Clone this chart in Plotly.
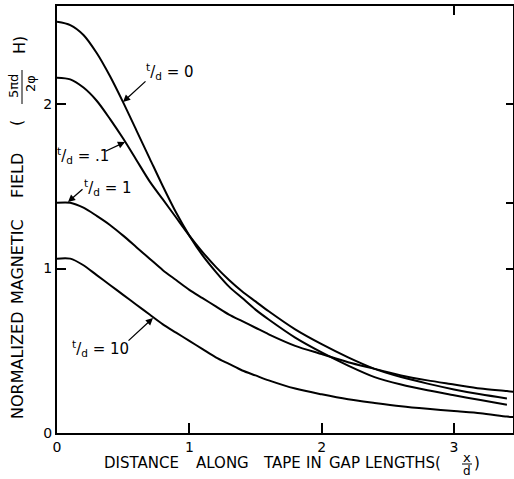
import plotly.graph_objects as go

# ---- data ----
x_vals = [0, 0.1, 0.2, 0.3, 0.4, 0.5, 0.6, 0.7, 0.8, 0.9, 1.0, 1.1, 1.2, 1.3, 1.4, 1.5,
          1.6, 1.8, 2.0, 2.2, 2.4, 2.6, 2.8, 3.0, 3.2, 3.4]
x_long = x_vals + [3.45]

t_d_0 = [2.50, 2.48, 2.42, 2.31, 2.17, 2.01, 1.84, 1.67, 1.50, 1.34, 1.20, 1.08, 0.98, 0.89,
         0.82, 0.75, 0.69, 0.58, 0.49, 0.41, 0.34, 0.295, 0.26, 0.23, 0.20, 0.172]
t_d_01 = [2.16, 2.15, 2.10, 2.02, 1.91, 1.79, 1.66, 1.53, 1.42, 1.31, 1.20, 1.10, 1.01, 0.93,
          0.86, 0.80, 0.74, 0.63, 0.54, 0.46, 0.39, 0.34, 0.30, 0.265, 0.235, 0.21]
t_d_1 = [1.40, 1.40, 1.37, 1.32, 1.265, 1.20, 1.13, 1.06, 0.99, 0.93, 0.87, 0.82, 0.77, 0.72,
         0.68, 0.64, 0.60, 0.53, 0.48, 0.43, 0.39, 0.35, 0.32, 0.295, 0.27, 0.255, 0.25]
t_d_10 = [1.06, 1.06, 1.02, 0.96, 0.90, 0.84, 0.78, 0.72, 0.66, 0.61, 0.56, 0.51, 0.46, 0.42,
          0.38, 0.35, 0.32, 0.27, 0.235, 0.205, 0.183, 0.163, 0.147, 0.133, 0.12, 0.10, 0.097]

x_ticks = [0, 1, 2, 3]
y_ticks = [0, 1, 2]

x_title_words = ["DISTANCE", "ALONG", "TAPE", "IN", "GAP", "LENGTHS("]
y_title_words = ["NORMALIZED", "MAGNETIC", "FIELD", "("]

FONT = "DejaVu Sans"
W, H = 514, 479
L, R, T, B = 57, 513, 6, 433
X_MAX, Y_MAX = 3.446, 2.596


def px(xp, yp):
    """pixel -> paper coords"""
    return (xp - L) / (R - L), (B - yp) / (B - T)


fig = go.Figure()
for xs, ys in [(x_vals, t_d_0), (x_vals, t_d_01), (x_long, t_d_1), (x_long, t_d_10)]:
    fig.add_trace(go.Scatter(x=xs, y=ys, mode="lines",
                             line=dict(color="black", width=2, shape="spline", smoothing=0.8),
                             showlegend=False, hoverinfo="skip"))

# invisible trace for mirrored axes
fig.add_trace(go.Scatter(x=[0], y=[0], xaxis="x2", yaxis="y2", mode="markers",
                         marker=dict(opacity=0), showlegend=False, hoverinfo="skip"))

fig.update_layout(
    width=W, height=H,
    margin=dict(l=L, r=W - R, t=T, b=H - B, autoexpand=False),
    paper_bgcolor="white", plot_bgcolor="white",
    font=dict(family=FONT, color="black", size=13),
    xaxis=dict(range=[0, X_MAX], tickvals=x_ticks, ticktext=[str(v) for v in x_ticks],
               ticks="inside", ticklen=10, tickwidth=1.5, tickcolor="black",
               showline=True, linewidth=2, linecolor="black", mirror=True, automargin=False,
               showgrid=False, zeroline=False, tickfont=dict(size=14)),
    yaxis=dict(range=[0, Y_MAX], tickvals=y_ticks, ticktext=[str(v) for v in y_ticks],
               ticks="inside", ticklen=9, tickwidth=1.5, tickcolor="black",
               showline=True, linewidth=2, linecolor="black", mirror=True, automargin=False,
               showgrid=False, zeroline=False, tickfont=dict(size=14)),
    xaxis2=dict(range=[0, X_MAX], overlaying="x", side="top", tickvals=[3], automargin=False,
                ticks="inside", ticklen=9, tickwidth=1.5, tickcolor="black",
                showticklabels=False, showgrid=False, zeroline=False, showline=False),
    yaxis2=dict(range=[0, Y_MAX], overlaying="y", side="right", tickvals=[1, 1.4, 2],
                automargin=False,
                ticks="inside", ticklen=7, tickwidth=1.5, tickcolor="black",
                showticklabels=False, showgrid=False, zeroline=False, showline=False),
)

# ---- curve labels with arrows ----
def arrow(tip_px, tail_px):
    tx, ty = tip_px
    xd = (tx - L) / (R - L) * X_MAX
    yd = (B - ty) / (B - T) * Y_MAX
    fig.add_annotation(x=xd, y=yd, xref="x", yref="y", text="", showarrow=True,
                       ax=tail_px[0] - tx, ay=tail_px[1] - ty, arrowhead=2,
                       arrowsize=1.1, arrowwidth=1.3, arrowcolor="black")


def label(text, cx, cy, size=13, angle=0, xanchor="center"):
    pxp, pyp = px(cx, cy)
    fig.add_annotation(x=pxp, y=pyp, xref="paper", yref="paper", text=text,
                       showarrow=False, font=dict(size=size, family=FONT),
                       textangle=angle, xanchor=xanchor, yanchor="middle")


frac = "<sup>t</sup>/<sub>d</sub> = "
arrow((123, 102), (147, 80))
label(frac + "0", 170, 72, size=15)
arrow((125, 142), (104, 152))
label(frac + ".1", 83, 155, size=15)
arrow((68, 202), (84, 188))
label(frac + "1", 108, 187, size=15)
arrow((153, 318), (127, 342))
label(frac + "10", 100, 348, size=15)

# ---- axis titles (word by word, to mimic the wide hand lettering) ----
for word, cx in zip(x_title_words, [141, 222, 282, 314, 344, 403]):
    label(word, cx, 463, size=15)
label("x", 467, 457, size=13)
label("d", 467, 471, size=12)
label(")", 477, 463, size=15)
fig.add_shape(type="line", xref="paper", yref="paper",
              x0=px(462, 0)[0], x1=px(472, 0)[0], y0=px(0, 464)[1], y1=px(0, 464)[1],
              line=dict(color="black", width=1))

for word, cy in zip(y_title_words, [366, 262, 176, 123]):
    label(word, 17, cy, size=16, angle=-90)
label("5πd", 13, 86, size=13, angle=-90)
label("2φ", 31, 84, size=13, angle=-90)
fig.add_shape(type="line", xref="paper", yref="paper",
              x0=px(22, 0)[0], x1=px(22, 0)[0], y0=px(0, 70)[1], y1=px(0, 104)[1],
              line=dict(color="black", width=1))
label("H)", 20, 45, size=16, angle=-90)

fig.write_html("out.html", config={"displayModeBar": False},
               post_script="document.body.style.margin='0';")
